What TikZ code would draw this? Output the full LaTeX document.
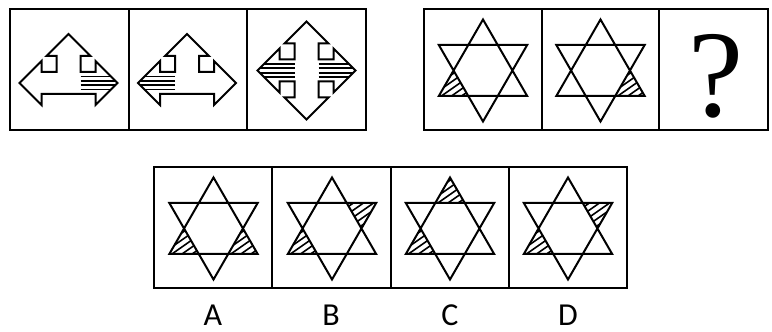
\documentclass[tikz,border=0pt]{standalone}
\usepackage{fontspec}
\newfontfamily\labelfont{Carlito}
\newfontfamily\qfont{Liberation Serif}
\newcommand{\threeway}[2]{\draw[outline,shift={(#1,#2)}] (0,49) -- (-22,27) -- (-12,27) -- (-12,11) -- (-27,11) -- (-27,22) -- (-49,0) -- (-27,-22) -- (-27,-11) -- (27,-11) -- (27,-22) -- (49,0) -- (27,22) -- (27,11) -- (12,11) -- (12,27) -- (22,27) -- cycle;}
\newcommand{\fourway}[2]{\draw[outline,shift={(#1,#2)}] (0,49) -- (-22,27) -- (-12,27) -- (-12,11) -- (-27,11) -- (-27,22) -- (-49,0) -- (-27,-22) -- (-27,-11) -- (-12,-11) -- (-12,-27) -- (-22,-27) -- (0,-49) -- (22,-27) -- (12,-27) -- (12,-11) -- (27,-11) -- (27,-22) -- (49,0) -- (27,22) -- (27,11) -- (12,11) -- (12,27) -- (22,27) -- cycle;}
\newcommand{\hatcharm}[3]{\foreach \yy in {-6.6,-2.2,2.2,6.6} \draw[armstripe] ({#1+12*#3},{#2+\yy}) -- ({#1+#3*(49-abs(\yy))},{#2+\yy});}
\newcommand{\sixstar}[2]{\draw[outline] (#1,#2) +(90:51) -- +(210:51) -- +(330:51) -- cycle (#1,#2) +(270:51) -- +(30:51) -- +(150:51) -- cycle;}
\newcommand{\hatchtip}[3]{\begin{scope}[shift={(#1,#2)}]
\clip (#3:51) -- (#3-30:29.45) -- (#3+30:29.45) -- cycle;
\foreach \k in {-5,...,5} \draw[stripe] (#3:34) ++(125:\k*5.8) +(215:30) -- +(35:30);
\end{scope}}
\begin{document}
\begin{tikzpicture}[x=1pt,y=1pt,outline/.style={line width=2pt},stripe/.style={line width=1.6pt},armstripe/.style={line width=1.7pt},cellbox/.style={line width=2pt},optlabel/.style={anchor=base,inner sep=0,font=\labelfont\fontsize{32}{32}\selectfont}]
\useasboundingbox (0,0) rectangle (772,332);
\draw[cellbox] (10,201.5) rectangle (366,322.5);
\foreach \xx in {128.67,247.33} \draw[cellbox] (\xx,201.5) -- (\xx,322.5);
\draw[cellbox] (424,201.5) rectangle (768,322.5);
\foreach \xx in {542,659} \draw[cellbox] (\xx,201.5) -- (\xx,322.5);
\draw[cellbox] (154,44) rectangle (627,165);
\foreach \xx in {272.25,390.5,508.75} \draw[cellbox] (\xx,44) -- (\xx,165);
\threeway{68.5}{249}
\hatcharm{68.5}{249}{1}
\threeway{187}{249}
\hatcharm{187}{249}{-1}
\fourway{306.5}{261.5}
\hatcharm{306.5}{261.5}{1}
\hatcharm{306.5}{261.5}{-1}
\hatchtip{483}{261.5}{210}
\sixstar{483}{261.5}
\hatchtip{600.5}{261.5}{330}
\sixstar{600.5}{261.5}
\node[anchor=base,inner sep=0,font=\qfont\fontsize{124}{124}\selectfont] (qmark) at (716,215) {?};
\hatchtip{213.5}{103.5}{210}
\hatchtip{213.5}{103.5}{330}
\sixstar{213.5}{103.5}
\hatchtip{332}{103.5}{210}
\hatchtip{332}{103.5}{30}
\sixstar{332}{103.5}
\hatchtip{450}{103.5}{210}
\hatchtip{450}{103.5}{90}
\sixstar{450}{103.5}
\hatchtip{568}{103.5}{210}
\hatchtip{568}{103.5}{30}
\sixstar{568}{103.5}
\foreach \t/\xx in {A/213,B/331,C/450,D/568} \node[optlabel] (lab\t) at (\xx,6) {\t};
\end{tikzpicture}
\end{document}
